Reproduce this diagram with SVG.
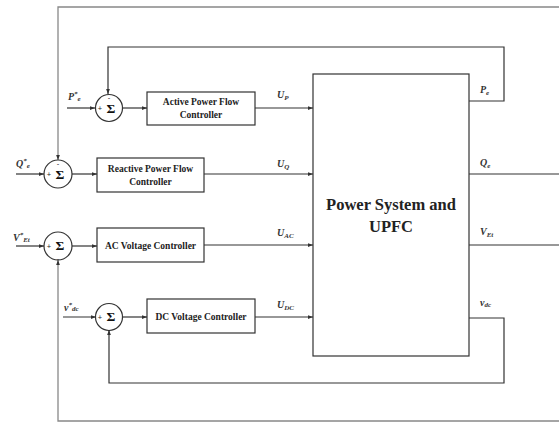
<svg xmlns="http://www.w3.org/2000/svg" width="559" height="423" viewBox="0 0 559 423">
<style>
.ln{fill:none;stroke:#333;stroke-width:1.2}
.lg{fill:none;stroke:#888;stroke-width:1.3}
.bx{fill:#fff;stroke:#333;stroke-width:1.2}
.ct{font-family:"Liberation Serif",serif;font-weight:bold;font-size:9.5px;fill:#222;text-anchor:middle}
.lb{font-family:"Liberation Serif",serif;font-style:italic;font-weight:bold;font-size:10px;fill:#333}
.sub{font-size:7px}
.sg{font-family:"Liberation Serif",serif;font-weight:bold;font-size:13.5px;fill:#111;text-anchor:middle}
.pm{font-family:"Liberation Sans",sans-serif;font-size:7.5px;fill:#222;text-anchor:middle}
.big{font-family:"Liberation Serif",serif;font-size:16.5px;fill:#222;text-anchor:middle;font-weight:bold}
</style>
<defs>
<marker id="ar" viewBox="0 0 8 6" refX="8" refY="3" markerWidth="5" markerHeight="4" orient="auto" markerUnits="userSpaceOnUse">
<path d="M0,0 L8,3 L0,6 z" fill="#333"/>
</marker>
</defs>
<rect width="559" height="423" fill="#fff"/>
<g id="connectors">
<path class="lg" d="M559,7 H58 V160" marker-end="url(#ar)"/>
<path class="lg" d="M559,421 H58 V260" marker-end="url(#ar)"/>
<path class="ln" d="M469,174 H559"/>
<path class="ln" d="M469,245 H559"/>
<path class="ln" d="M469,101 H504 V47 H108 V94" marker-end="url(#ar)"/>
<path class="ln" d="M469,318 H504 V383 H109 V330" marker-end="url(#ar)"/>
<path class="ln" d="M67,108 H95" marker-end="url(#ar)"/>
<path class="ln" d="M16,174 H44" marker-end="url(#ar)"/>
<path class="ln" d="M16,246 H44" marker-end="url(#ar)"/>
<path class="ln" d="M63,317 H96" marker-end="url(#ar)"/>
<path class="ln" d="M122,108 H147" marker-end="url(#ar)"/>
<path class="ln" d="M72,174 H97" marker-end="url(#ar)"/>
<path class="ln" d="M72,246 H97" marker-end="url(#ar)"/>
<path class="ln" d="M123,317 H147" marker-end="url(#ar)"/>
<path class="ln" d="M255,108 H313" marker-end="url(#ar)"/>
<path class="ln" d="M204,174 H313" marker-end="url(#ar)"/>
<path class="ln" d="M204,245 H313" marker-end="url(#ar)"/>
<path class="ln" d="M255,317 H313" marker-end="url(#ar)"/>
</g>
<g id="labels">
<text class="lb" x="68" y="100">P<tspan class="sub" dy="-4">*</tspan><tspan class="sub" dy="5">e</tspan></text>
<text class="lb" x="16" y="167">Q<tspan class="sub" dy="-4">*</tspan><tspan class="sub" dy="5">e</tspan></text>
<text class="lb" x="13" y="241">V<tspan class="sub" dy="-4">*</tspan><tspan class="sub" dy="5">Et</tspan></text>
<text class="lb" x="64" y="311">v<tspan class="sub" dy="-4">*</tspan><tspan class="sub" dy="4">dc</tspan></text>
<text class="lb" x="277" y="98">U<tspan class="sub" dy="2">P</tspan></text>
<text class="lb" x="277" y="167">U<tspan class="sub" dy="2">Q</tspan></text>
<text class="lb" x="277" y="236">U<tspan class="sub" dy="2">AC</tspan></text>
<text class="lb" x="277" y="308">U<tspan class="sub" dy="2">DC</tspan></text>
<text class="lb" x="480" y="93">P<tspan class="sub" dy="2">e</tspan></text>
<text class="lb" x="480" y="166">Q<tspan class="sub" dy="2">e</tspan></text>
<text class="lb" x="480" y="235">V<tspan class="sub" dy="2">Et</tspan></text>
<text class="lb" x="480" y="306">v<tspan class="sub" dy="1">dc</tspan></text>
</g>
<g id="sumP">
<circle class="bx" cx="109" cy="108" r="13.5"/>
<text class="sg" x="111" y="113">Σ</text>
<text class="pm" x="100" y="111">+</text>
<text class="pm" x="109" y="99.5">-</text>
</g>
<g id="sumQ">
<circle class="bx" cx="58" cy="174" r="14"/>
<text class="sg" x="60" y="179">Σ</text>
<text class="pm" x="49" y="177">+</text>
<text class="pm" x="58" y="165.5">-</text>
</g>
<g id="sumAC">
<circle class="bx" cx="58" cy="246" r="14"/>
<text class="sg" x="60" y="250">Σ</text>
<text class="pm" x="49" y="249">+</text>
<text class="pm" x="58" y="260.5">-</text>
</g>
<g id="sumDC">
<circle class="bx" cx="109" cy="317" r="13.5"/>
<text class="sg" x="111" y="321">Σ</text>
<text class="pm" x="100" y="320">+</text>
<text class="pm" x="109" y="331.5">-</text>
</g>
<g id="activeCtrl">
<rect class="bx" x="147" y="92" width="108" height="33"/>
<text class="ct" x="201" y="105">Active Power Flow</text>
<text class="ct" x="201" y="118">Controller</text>
</g>
<g id="reactiveCtrl">
<rect class="bx" x="97" y="158" width="107" height="34"/>
<text class="ct" x="150.5" y="172">Reactive Power Flow</text>
<text class="ct" x="150.5" y="185">Controller</text>
</g>
<g id="acCtrl">
<rect class="bx" x="97" y="228" width="107" height="34"/>
<text class="ct" x="150.5" y="248.5">AC  Voltage Controller</text>
</g>
<g id="dcCtrl">
<rect class="bx" x="147" y="299" width="108" height="34"/>
<text class="ct" x="201" y="320">DC Voltage Controller</text>
</g>
<g id="upfc">
<rect class="bx" x="313" y="74" width="156" height="282"/>
<text class="big" x="391" y="210">Power System and</text>
<text class="big" x="391" y="232">UPFC</text>
</g>
</svg>
